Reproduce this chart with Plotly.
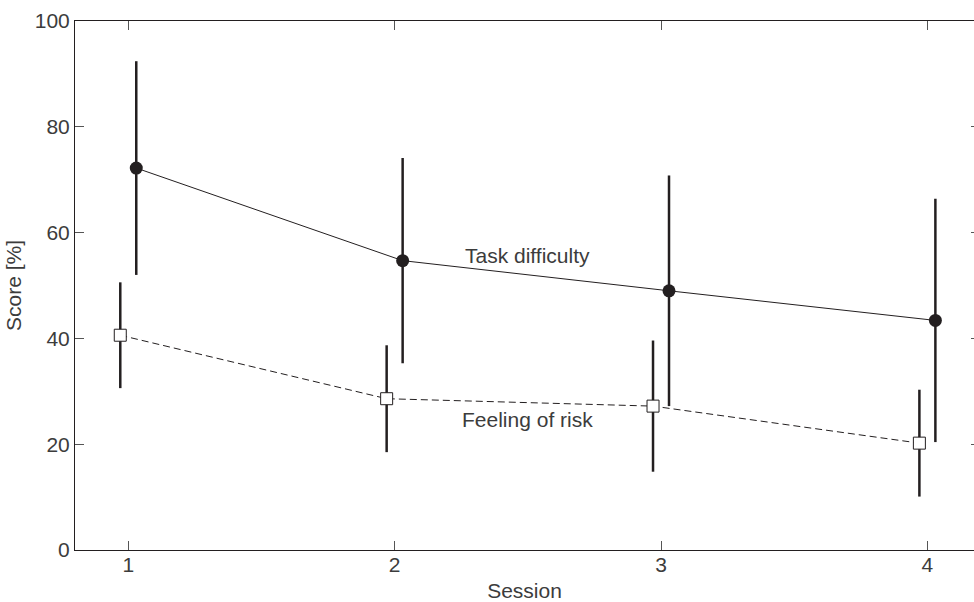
import plotly.graph_objects as go

# Session means and standard deviations (score in %)
sessions = [1, 2, 3, 4]
task_difficulty = [72.2, 54.7, 49.0, 43.4]
task_difficulty_sd = [20.2, 19.4, 21.8, 23.0]
feeling_of_risk = [40.6, 28.6, 27.2, 20.2]
feeling_of_risk_sd = [10.0, 10.1, 12.4, 10.1]
y_ticks = [0, 20, 40, 60, 80, 100]

# small horizontal dodge so the two series' bars don't overlap
dodge = 0.03
x_task = [s + dodge for s in sessions]
x_risk = [s - dodge for s in sessions]

ink = "#231f20"
font_family = "Liberation Sans"
text_color = "#3c3c3c"
fsize = 21

fig = go.Figure()

fig.add_trace(go.Scatter(
    x=x_risk, y=feeling_of_risk, mode="lines+markers", name="Feeling of risk",
    line=dict(color=ink, width=1, dash="7px,4px"),
    marker=dict(symbol="square", size=12, color="white",
                line=dict(color=ink, width=1)),
    error_y=dict(type="data", array=feeling_of_risk_sd, visible=True,
                 width=0, thickness=2.5, color=ink),
    showlegend=False,
))

fig.add_trace(go.Scatter(
    x=x_task, y=task_difficulty, mode="lines+markers", name="Task difficulty",
    line=dict(color=ink, width=1),
    marker=dict(symbol="circle", size=13, color=ink, line=dict(width=0)),
    error_y=dict(type="data", array=task_difficulty_sd, visible=True,
                 width=0, thickness=2.5, color=ink),
    showlegend=False,
))

# empty trace that carries the right-hand tick axis
fig.add_trace(go.Scatter(x=[None], y=[None], yaxis="y2", showlegend=False,
                         hoverinfo="skip"))

fig.add_annotation(x=2.5, y=55.7, text="Task difficulty", showarrow=False,
                   xanchor="center", yanchor="middle",
                   font=dict(family=font_family, size=fsize, color=text_color))
fig.add_annotation(x=2.5, y=24.6, text="Feeling of risk", showarrow=False,
                   xanchor="center", yanchor="middle",
                   font=dict(family=font_family, size=fsize, color=text_color))

fig.update_layout(
    width=974, height=602,
    margin=dict(l=75, r=0, t=21, b=52),
    paper_bgcolor="white", plot_bgcolor="white",
    font=dict(family=font_family, size=fsize, color=text_color),
    xaxis=dict(
        range=[0.8, 4.175], tickvals=sessions, ticktext=[str(s) for s in sessions],
        ticks="inside", ticklen=9, tickcolor="#555555", tickwidth=1,
        showline=True, linecolor=ink, linewidth=1, mirror="ticks",
        showgrid=False, zeroline=False,
        ticklabelstandoff=-4,
        title=dict(text="Session", standoff=11,
                   font=dict(family=font_family, size=fsize, color=text_color)),
    ),
    yaxis=dict(
        range=[0, 100], tickvals=y_ticks,
        ticks="inside", ticklen=9, tickcolor="#555555", tickwidth=1,
        showline=True, linecolor=ink, linewidth=1,
        showgrid=False, zeroline=False,
        ticklabelstandoff=0,
        title=dict(text="Score [%]", standoff=7,
                   font=dict(family=font_family, size=fsize, color=text_color)),
    ),
    yaxis2=dict(
        range=[0, 100], tickvals=y_ticks, overlaying="y", side="right",
        ticks="inside", ticklen=3, tickcolor="#555555", tickwidth=1,
        showticklabels=False, showline=False, showgrid=False, zeroline=False,
    ),
)

fig.write_html("out.html")
